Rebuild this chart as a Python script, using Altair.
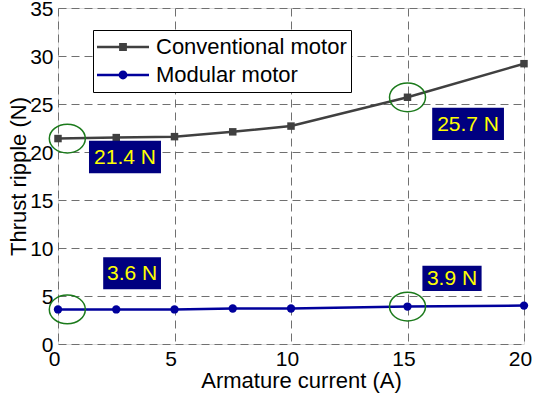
import altair as alt
import pandas as pd

# ---------------- data ----------------
current = [0, 2.5, 5, 7.5, 10, 15, 20]
conventional = [21.4, 21.5, 21.6, 22.1, 22.7, 25.7, 29.2]
modular = [3.6, 3.6, 3.6, 3.7, 3.7, 3.9, 4.0]
series_names = ["Conventional motor", "Modular motor"]

x_ticks = [0, 5, 10, 15, 20]
y_ticks = [0, 5, 10, 15, 20, 25, 30, 35]

# annotation boxes (data units)
ann_labels = ["21.4 N", "25.7 N", "3.6 N", "3.9 N"]
ann_x1 = [1.33, 16.06, 1.94, 15.64]
ann_x2 = [4.42, 19.14, 4.42, 18.18]
ann_y1 = [17.78, 21.25, 5.70, 5.52]
ann_y2 = [21.18, 24.60, 9.03, 8.16]

# highlighted points (green ellipses)
ring_x = [0.4, 15, 0.4, 15]
ring_y = [21.4, 25.7, 3.6, 3.9]

# ---------------- styles ----------------
FONT = "Liberation Sans"
C_CONV = "#404040"
C_MOD = "#00009c"
C_BOX = "#000080"
C_TXT = "#ffff00"
C_RING = "#1b7a1b"

ELLIPSE = "M -1 0 A 1 0.8 0 1 1 1 0 A 1 0.8 0 1 1 -1 0 Z"
LEG_SQ = ("M -1 -0.05 L 1 -0.05 L 1 0.05 L -1 0.05 Z "
          "M -0.15 -0.15 L 0.15 -0.15 L 0.15 0.15 L -0.15 0.15 Z")
LEG_CI = ("M -1 -0.05 L 1 -0.05 L 1 0.05 L -1 0.05 Z "
          "M -0.17 0 A 0.17 0.17 0 1 1 0.17 0 A 0.17 0.17 0 1 1 -0.17 0 Z")

conv_df = pd.DataFrame({"current": current, "ripple": conventional,
                        "series": series_names[0]})
mod_df = pd.DataFrame({"current": current, "ripple": modular,
                       "series": series_names[1]})
all_df = pd.concat([conv_df, mod_df], ignore_index=True)

ann_df = pd.DataFrame({"label": ann_labels, "x1": ann_x1, "x2": ann_x2,
                       "y1": ann_y1, "y2": ann_y2})
ring_df = pd.DataFrame({"x": ring_x, "y": ring_y})

xscale = alt.Scale(domain=[0, 20], nice=False, zero=False)
yscale = alt.Scale(domain=[0, 35], nice=False)

x_axis = alt.Axis(values=x_ticks, title="Armature current (A)", grid=True,
                  gridDash=[8, 5], gridColor="#707070", gridWidth=1,
                  ticks=False, domain=False, labelFontSize=21, labelFont=FONT,
                  labelColor="black", labelPadding=4, labelFlush=False,
                  labelOverlap=False, labelOffset=-4, titleFontSize=22, titleFont=FONT,
                  titleFontWeight="normal", titleColor="black",
                  titleX=243, titleY=43, titleBaseline="alphabetic")
y_axis = alt.Axis(values=y_ticks, title="Thrust ripple (N)", grid=True,
                  gridDash=[8, 5], gridColor="#707070", gridWidth=1,
                  ticks=False, domain=False, labelFontSize=21, labelFont=FONT,
                  labelColor="black", labelPadding=5, labelFlush=False,
                  labelOverlap=False, labelOffset=1, titleFontSize=22, titleFont=FONT,
                  titleFontWeight="normal", titleColor="black",
                  titleX=-33, titleBaseline="alphabetic")

X = alt.X("current:Q", scale=xscale, axis=x_axis)
Y = alt.Y("ripple:Q", scale=yscale, axis=y_axis)

conv_line = alt.Chart(conv_df).mark_line(color=C_CONV, strokeWidth=2.5).encode(x=X, y=Y)
conv_pts = alt.Chart(conv_df).mark_point(shape="square", filled=True, size=56,
                                         color=C_CONV, opacity=1).encode(x="current:Q", y="ripple:Q")
mod_line = alt.Chart(mod_df).mark_line(color=C_MOD, strokeWidth=2.5).encode(x="current:Q", y="ripple:Q")
mod_pts = alt.Chart(mod_df).mark_point(shape="circle", filled=True, size=70,
                                       color=C_MOD, opacity=1).encode(x="current:Q", y="ripple:Q")

rings = alt.Chart(ring_df).mark_point(shape=ELLIPSE, size=1296, filled=False,
                                      color=C_RING, strokeWidth=1.5, opacity=1).encode(
    x="x:Q", y="y:Q")

boxes = alt.Chart(ann_df).mark_rect(color=C_BOX).encode(
    x="x1:Q", x2="x2:Q", y="y1:Q", y2="y2:Q")
texts = alt.Chart(ann_df).transform_calculate(
    xc="(datum.x1 + datum.x2) / 2", yc="(datum.y1 + datum.y2) / 2"
).mark_text(color=C_TXT, fontSize=21, font=FONT, align="center",
            baseline="middle", dy=1).encode(x="xc:Q", y="yc:Q", text="label:N")

legend = alt.Legend(title=None, orient="none", legendX=35, legendY=22,
                    symbolSize=2704, symbolStrokeWidth=0, symbolOpacity=1,
                    labelFontSize=22, labelFont=FONT, labelColor="black",
                    labelLimit=400, labelOffset=7, padding=4, clipHeight=26,
                    rowPadding=2, strokeColor="black", fillColor="white")

legend_layer = alt.Chart(all_df).mark_point(filled=True, opacity=0).encode(
    x="current:Q", y="ripple:Q",
    color=alt.Color("series:N", scale=alt.Scale(domain=series_names,
                                                range=[C_CONV, C_MOD]), legend=legend),
    shape=alt.Shape("series:N", scale=alt.Scale(domain=series_names,
                                                range=[LEG_SQ, LEG_CI]), legend=legend),
)

chart = alt.layer(conv_line, conv_pts, mod_line, mod_pts, rings, boxes, texts,
                  legend_layer).properties(
    width=466, height=336,
    autosize=alt.AutoSizeParams(type="none"),
    padding={"left": 58, "top": 8, "right": 9, "bottom": 49},
    background="white",
).configure_view(stroke="black", strokeWidth=1).configure(font=FONT)

chart.save("out.html", embed_options={"renderer": "svg", "actions": False})
